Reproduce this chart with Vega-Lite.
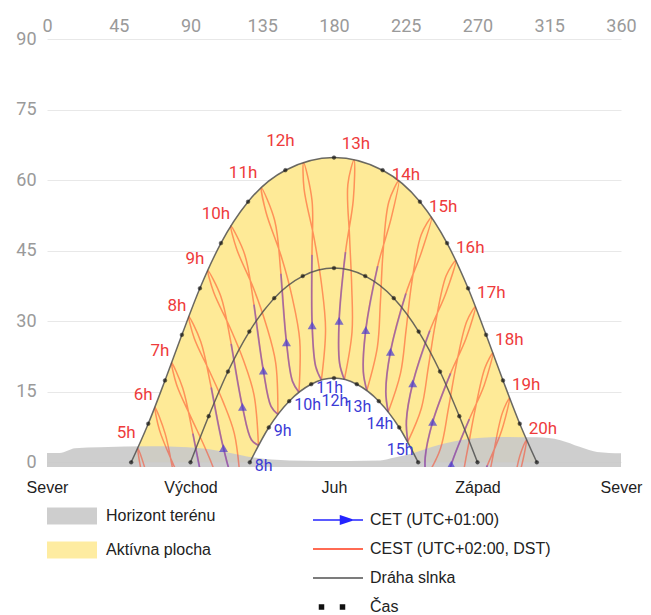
{
  "$schema": "https://vega.github.io/schema/vega-lite/v6.json",
  "width": 574,
  "height": 428,
  "autosize": {"type": "none"},
  "padding": {"left": 47, "top": 39, "right": 30, "bottom": 148},
  "config": {
    "view": {"stroke": null},
    "font": "Roboto",
    "axis": {"title": null, "ticks": false, "domain": false, "grid": false, "labelFont": "Roboto", "labelColor": "#9a9a9a", "labelFontSize": 18}
  },
  "datasets": {
    "paths": [
      {"c": "S", "az": 52.8, "el": 0, "label": "5h"},
      {"c": "S", "az": 63.5, "el": 8.2, "label": "6h"},
      {"c": "S", "az": 74.0, "el": 17.4, "label": "7h"},
      {"c": "S", "az": 84.6, "el": 27.1, "label": "8h"},
      {"c": "S", "az": 95.9, "el": 37.0, "label": "9h"},
      {"c": "S", "az": 109.1, "el": 46.6, "label": "10h"},
      {"c": "S", "az": 126.1, "el": 55.4, "label": "11h"},
      {"c": "S", "az": 149.5, "el": 62.1, "label": "12h"},
      {"c": "S", "az": 180, "el": 64.8, "label": "13h"},
      {"c": "S", "az": 210.5, "el": 62.1, "label": "14h"},
      {"c": "S", "az": 233.9, "el": 55.4, "label": "15h"},
      {"c": "S", "az": 250.9, "el": 46.6, "label": "16h"},
      {"c": "S", "az": 264.1, "el": 37.0, "label": "17h"},
      {"c": "S", "az": 275.4, "el": 27.1, "label": "18h"},
      {"c": "S", "az": 286.0, "el": 17.4, "label": "19h"},
      {"c": "S", "az": 296.5, "el": 8.2, "label": "20h"},
      {"c": "S", "az": 307.2, "el": 0, "label": ""},
      {"c": "E", "az": 90, "el": 0, "label": ""},
      {"c": "E", "az": 101.4, "el": 9.8, "label": ""},
      {"c": "E", "az": 113.5, "el": 19.3, "label": ""},
      {"c": "E", "az": 126.9, "el": 27.8, "label": ""},
      {"c": "E", "az": 142.5, "el": 34.9, "label": ""},
      {"c": "E", "az": 160.4, "el": 39.6, "label": ""},
      {"c": "E", "az": 180, "el": 41.3, "label": ""},
      {"c": "E", "az": 199.6, "el": 39.6, "label": ""},
      {"c": "E", "az": 217.5, "el": 34.9, "label": ""},
      {"c": "E", "az": 233.1, "el": 27.8, "label": ""},
      {"c": "E", "az": 246.5, "el": 19.3, "label": ""},
      {"c": "E", "az": 258.6, "el": 9.8, "label": ""},
      {"c": "E", "az": 270, "el": 0, "label": ""},
      {"c": "W", "az": 127.2, "el": 0, "label": "8h"},
      {"c": "W", "az": 139.1, "el": 7.4, "label": "9h"},
      {"c": "W", "az": 151.9, "el": 13.0, "label": "10h"},
      {"c": "W", "az": 165.7, "el": 16.6, "label": "11h"},
      {"c": "W", "az": 180, "el": 17.9, "label": "12h"},
      {"c": "W", "az": 194.3, "el": 16.6, "label": "13h"},
      {"c": "W", "az": 208.1, "el": 13.0, "label": "14h"},
      {"c": "W", "az": 220.9, "el": 7.4, "label": "15h"},
      {"c": "W", "az": 232.8, "el": 0, "label": ""}
    ],
    "terrain": [
      {"az": 0, "el": 2.0}, {"az": 8, "el": 2.0}, {"az": 17.6, "el": 3.0}, {"az": 33, "el": 3.2},
      {"az": 65, "el": 3.4}, {"az": 96, "el": 3.0}, {"az": 115, "el": 2.0}, {"az": 130, "el": 1.0},
      {"az": 152, "el": 0.4}, {"az": 171, "el": 0.3}, {"az": 190, "el": 0.3}, {"az": 209, "el": 0.4},
      {"az": 218, "el": 1.0}, {"az": 230, "el": 2.0}, {"az": 245, "el": 3.6}, {"az": 265, "el": 5.0},
      {"az": 286, "el": 5.4}, {"az": 307, "el": 5.3}, {"az": 322, "el": 4.7}, {"az": 334, "el": 3.3},
      {"az": 345, "el": 2.2}, {"az": 360, "el": 1.9}
    ],
    "hours": [
      {"t": 5, "d": 4, "az": 68.5, "el": -13.3}, {"t": 5, "d": 5, "az": 62.9, "el": -3.1}, {"t": 5, "d": 6, "az": 57.0, "el": 3.0}, {"t": 5, "d": 7, "az": 59.4, "el": -2.1}, {"t": 5, "d": 8, "az": 67.7, "el": -9.9},
      {"t": 6, "d": 3, "az": 88.4, "el": -16.4}, {"t": 6, "d": 4, "az": 80.2, "el": -3.8}, {"t": 6, "d": 5, "az": 74.1, "el": 6.1}, {"t": 6, "d": 6, "az": 67.7, "el": 11.7}, {"t": 6, "d": 7, "az": 70.5, "el": 6.9}, {"t": 6, "d": 8, "az": 79.2, "el": -0.4}, {"t": 6, "d": 9, "az": 87.5, "el": -6.5}, {"t": 6, "d": 10, "az": 95.1, "el": -12.8},
      {"t": 7, "d": 1, "az": 110.7, "el": -13.2}, {"t": 7, "d": 2, "az": 106.1, "el": -12.7}, {"t": 7, "d": 3, "az": 99.5, "el": -6.6}, {"t": 7, "d": 4, "az": 91.5, "el": 6.1}, {"t": 7, "d": 5, "az": 85.1, "el": 15.8}, {"t": 7, "d": 6, "az": 78.1, "el": 21.2}, {"t": 7, "d": 7, "az": 81.3, "el": 16.5}, {"t": 7, "d": 8, "az": 90.4, "el": 9.5}, {"t": 7, "d": 9, "az": 98.7, "el": 3.4}, {"t": 7, "d": 10, "az": 106.1, "el": -3.05}, {"t": 7, "d": 11, "az": 110.7, "el": -13.2},
      {"t": 8, "d": 1, "az": 121.3, "el": -4.3}, {"t": 8, "d": 2, "az": 116.8, "el": -3.5}, {"t": 8, "d": 3, "az": 110.7, "el": 3.0}, {"t": 8, "d": 4, "az": 103.0, "el": 15.9}, {"t": 8, "d": 5, "az": 96.4, "el": 25.7}, {"t": 8, "d": 6, "az": 88.9, "el": 31.0}, {"t": 8, "d": 7, "az": 92.4, "el": 26.3}, {"t": 8, "d": 8, "az": 102.0, "el": 19.3}, {"t": 8, "d": 9, "az": 110.4, "el": 12.9}, {"t": 8, "d": 10, "az": 117.5, "el": 6.1}, {"t": 8, "d": 11, "az": 121.3, "el": -4.3},
      {"t": 9, "d": 1, "az": 132.6, "el": 3.6}, {"t": 9, "d": 2, "az": 128.2, "el": 4.8}, {"t": 9, "d": 3, "az": 122.6, "el": 11.8}, {"t": 9, "d": 4, "az": 115.5, "el": 25.2}, {"t": 9, "d": 5, "az": 109.0, "el": 35.3}, {"t": 9, "d": 6, "az": 100.8, "el": 40.8}, {"t": 9, "d": 7, "az": 104.6, "el": 36.1}, {"t": 9, "d": 8, "az": 114.7, "el": 28.7}, {"t": 9, "d": 9, "az": 123.1, "el": 21.8}, {"t": 9, "d": 10, "az": 129.8, "el": 14.4}, {"t": 9, "d": 11, "az": 132.6, "el": 3.6},
      {"t": 10, "d": 1, "az": 144.8, "el": 10.2}, {"t": 10, "d": 2, "az": 140.5, "el": 11.9}, {"t": 10, "d": 3, "az": 135.7, "el": 19.5}, {"t": 10, "d": 4, "az": 129.8, "el": 33.5}, {"t": 10, "d": 5, "az": 124.0, "el": 44.2}, {"t": 10, "d": 6, "az": 115.2, "el": 50.3}, {"t": 10, "d": 7, "az": 119.0, "el": 45.3}, {"t": 10, "d": 8, "az": 129.4, "el": 37.1}, {"t": 10, "d": 9, "az": 137.4, "el": 29.3}, {"t": 10, "d": 10, "az": 143.4, "el": 21.2}, {"t": 10, "d": 11, "az": 144.8, "el": 10.2},
      {"t": 11, "d": 1, "az": 158.0, "el": 14.9}, {"t": 11, "d": 2, "az": 154.0, "el": 17.2}, {"t": 11, "d": 3, "az": 150.2, "el": 25.5}, {"t": 11, "d": 4, "az": 146.7, "el": 40.1}, {"t": 11, "d": 5, "az": 142.8, "el": 51.4}, {"t": 11, "d": 6, "az": 134.4, "el": 58.4}, {"t": 11, "d": 7, "az": 137.4, "el": 53.1}, {"t": 11, "d": 8, "az": 147.0, "el": 43.7}, {"t": 11, "d": 9, "az": 153.9, "el": 34.9}, {"t": 11, "d": 10, "az": 158.5, "el": 26.0}, {"t": 11, "d": 11, "az": 158.0, "el": 14.9},
      {"t": 12, "d": 1, "az": 172.1, "el": 17.5}, {"t": 12, "d": 2, "az": 168.5, "el": 20.4}, {"t": 12, "d": 3, "az": 166.3, "el": 29.1}, {"t": 12, "d": 4, "az": 166.2, "el": 44.1}, {"t": 12, "d": 5, "az": 166.2, "el": 55.7}, {"t": 12, "d": 6, "az": 160.9, "el": 63.75}, {"t": 12, "d": 7, "az": 161.2, "el": 58.2}, {"t": 12, "d": 8, "az": 167.6, "el": 47.5}, {"t": 12, "d": 9, "az": 172.2, "el": 37.8}, {"t": 12, "d": 10, "az": 174.7, "el": 28.3}, {"t": 12, "d": 11, "az": 172.1, "el": 17.5},
      {"t": 13, "d": 1, "az": 186.5, "el": 17.6}, {"t": 13, "d": 2, "az": 183.5, "el": 21.1}, {"t": 13, "d": 3, "az": 183.2, "el": 30.05}, {"t": 13, "d": 4, "az": 187.2, "el": 44.7}, {"t": 13, "d": 5, "az": 192.1, "el": 55.8}, {"t": 13, "d": 6, "az": 192.6, "el": 64.3}, {"t": 13, "d": 7, "az": 188.7, "el": 59.1}, {"t": 13, "d": 8, "az": 189.8, "el": 47.7}, {"t": 13, "d": 9, "az": 191.1, "el": 37.5}, {"t": 13, "d": 10, "az": 191.3, "el": 27.7}, {"t": 13, "d": 11, "az": 186.5, "el": 17.6},
      {"t": 14, "d": 1, "az": 200.6, "el": 15.3}, {"t": 14, "d": 2, "az": 198.4, "el": 19.2}, {"t": 14, "d": 3, "az": 199.9, "el": 28.1}, {"t": 14, "d": 4, "az": 207.4, "el": 41.7}, {"t": 14, "d": 5, "az": 215.8, "el": 51.8}, {"t": 14, "d": 6, "az": 220.6, "el": 59.85}, {"t": 14, "d": 7, "az": 214.4, "el": 55.4}, {"t": 14, "d": 8, "az": 210.7, "el": 44.3}, {"t": 14, "d": 9, "az": 209.1, "el": 34.1}, {"t": 14, "d": 10, "az": 207.2, "el": 24.5}, {"t": 14, "d": 11, "az": 200.6, "el": 15.3},
      {"t": 15, "d": 1, "az": 214.0, "el": 10.7}, {"t": 15, "d": 2, "az": 212.5, "el": 15.0}, {"t": 15, "d": 3, "az": 215.4, "el": 23.5}, {"t": 15, "d": 4, "az": 225.1, "el": 35.9}, {"t": 15, "d": 5, "az": 234.9, "el": 44.7}, {"t": 15, "d": 6, "az": 241.2, "el": 52.1}, {"t": 15, "d": 7, "az": 234.7, "el": 48.4}, {"t": 15, "d": 8, "az": 228.7, "el": 38.0}, {"t": 15, "d": 9, "az": 225.2, "el": 28.1}, {"t": 15, "d": 10, "az": 221.7, "el": 18.9}, {"t": 15, "d": 11, "az": 214.0, "el": 10.7},
      {"t": 16, "d": 1, "az": 226.3, "el": 4.4}, {"t": 16, "d": 2, "az": 225.4, "el": 8.8}, {"t": 16, "d": 3, "az": 229.4, "el": 16.8}, {"t": 16, "d": 4, "az": 240.1, "el": 28.0}, {"t": 16, "d": 5, "az": 250.1, "el": 35.9}, {"t": 16, "d": 6, "az": 256.4, "el": 42.9}, {"t": 16, "d": 7, "az": 250.4, "el": 39.7}, {"t": 16, "d": 8, "az": 243.7, "el": 29.7}, {"t": 16, "d": 9, "az": 239.2, "el": 20.3}, {"t": 16, "d": 10, "az": 234.8, "el": 11.5}, {"t": 16, "d": 11, "az": 226.3, "el": 4.4},
      {"t": 17, "d": 1, "az": 237.6, "el": -3.4}, {"t": 17, "d": 2, "az": 237.2, "el": 1.05}, {"t": 17, "d": 3, "az": 241.9, "el": 8.6}, {"t": 17, "d": 4, "az": 253.1, "el": 18.9}, {"t": 17, "d": 5, "az": 262.8, "el": 26.3}, {"t": 17, "d": 6, "az": 268.7, "el": 33.1}, {"t": 17, "d": 7, "az": 263.3, "el": 30.0}, {"t": 17, "d": 8, "az": 256.5, "el": 20.4}, {"t": 17, "d": 9, "az": 251.7, "el": 11.3}, {"t": 17, "d": 10, "az": 246.7, "el": 2.85}, {"t": 17, "d": 11, "az": 237.6, "el": -3.4},
      {"t": 18, "d": 1, "az": 248.3, "el": -12.2}, {"t": 18, "d": 2, "az": 248.2, "el": -7.7}, {"t": 18, "d": 3, "az": 253.5, "el": -0.5}, {"t": 18, "d": 4, "az": 264.9, "el": 9.2}, {"t": 18, "d": 5, "az": 274.2, "el": 16.4}, {"t": 18, "d": 6, "az": 279.6, "el": 23.25}, {"t": 18, "d": 7, "az": 274.7, "el": 20.1}, {"t": 18, "d": 8, "az": 268.2, "el": 10.65}, {"t": 18, "d": 9, "az": 263.2, "el": 1.7}, {"t": 18, "d": 10, "az": 257.9, "el": -6.6}, {"t": 18, "d": 11, "az": 248.3, "el": -12.2},
      {"t": 19, "d": 3, "az": 264.6, "el": -10.2}, {"t": 19, "d": 4, "az": 276.2, "el": -0.65}, {"t": 19, "d": 5, "az": 285.1, "el": 6.7}, {"t": 19, "d": 6, "az": 290.1, "el": 13.7}, {"t": 19, "d": 7, "az": 285.5, "el": 10.4}, {"t": 19, "d": 8, "az": 279.4, "el": 0.8}, {"t": 19, "d": 9, "az": 274.5, "el": -8.2},
      {"t": 20, "d": 4, "az": 287.7, "el": -10.3}, {"t": 20, "d": 5, "az": 296.3, "el": -2.5}, {"t": 20, "d": 6, "az": 300.7, "el": 4.75}, {"t": 20, "d": 7, "az": 296.4, "el": 1.2}, {"t": 20, "d": 8, "az": 290.9, "el": -8.8}
    ]
  },
  "resolve": {"axis": {"x": "independent"}},
  "layer": [
    {
      "data": {"name": "paths"},
      "transform": [{"filter": "datum.c === 'S'"}],
      "mark": {"type": "area", "interpolate": "monotone"},
      "encoding": {
        "x": {"field": "az", "type": "quantitative", "scale": {"domain": [0, 360], "nice": false, "zero": false},
              "axis": {"orient": "top", "values": [0, 45, 90, 135, 180, 225, 270, 315, 360], "labelPadding": 4, "labelFlush": false, "labelOverlap": false}},
        "y": {"field": "el", "type": "quantitative", "scale": {"domain": [-1, 90], "nice": false, "zero": false},
              "axis": {"values": [0, 15, 30, 45, 60, 75, 90], "grid": true, "gridColor": "#e8e8e8", "labelPadding": 11, "labelOverlap": false}},
        "y2": {"datum": 0},
        "fill": {"datum": "Aktívna plocha", "type": "nominal",
                 "scale": {"domain": ["Horizont terénu", "Aktívna plocha"], "range": ["#c9c9c9", "#feea97"]},
                 "legend": {"orient": "none", "legendX": 0, "legendY": 452, "title": null, "direction": "vertical",
                            "symbolType": "M-1,-0.34H1V0.34H-1Z", "symbolSize": 2500, "symbolStrokeWidth": 0, "symbolOpacity": 1,
                            "rowPadding": -19, "labelOffset": 9, "labelLimit": 300, "labelFont": "Liberation Sans", "labelFontSize": 16, "labelColor": "#222222"}}
      }
    },
    {
      "data": {"name": "paths"},
      "transform": [{"filter": "datum.c === 'W'"}],
      "mark": {"type": "area", "interpolate": "monotone", "fill": "#ffffff"},
      "encoding": {
        "x": {"field": "az", "type": "quantitative",
              "axis": {"orient": "bottom", "values": [0, 90, 180, 270, 360], "labelExpr": "datum.value == 0 || datum.value == 360 ? 'Sever' : datum.value == 90 ? 'Východ' : datum.value == 180 ? 'Juh' : 'Západ'",
                       "labelColor": "#222222", "labelFont": "Liberation Sans", "labelFontSize": 16, "labelPadding": 12, "labelFlush": false, "labelOverlap": false}},
        "y": {"field": "el", "type": "quantitative"},
        "y2": {"datum": 0}
      }
    },
    {
      "data": {"name": "terrain"},
      "mark": {"type": "area", "interpolate": "monotone", "opacity": 0.9},
      "encoding": {
        "x": {"field": "az", "type": "quantitative", "axis": null},
        "y": {"field": "el", "type": "quantitative"},
        "y2": {"datum": -1},
        "fill": {"datum": "Horizont terénu", "type": "nominal"}
      }
    },
    {
      "data": {"name": "hours"},
      "mark": {"type": "line", "interpolate": "catmull-rom", "strokeWidth": 1.5, "opacity": 0.5, "clip": true},
      "encoding": {
        "x": {"field": "az", "type": "quantitative", "axis": null},
        "y": {"field": "el", "type": "quantitative"},
        "detail": {"field": "t"},
        "order": {"field": "d"},
        "stroke": {"datum": "CEST (UTC+02:00, DST)", "type": "nominal",
                   "scale": {"domain": ["CET (UTC+01:00)", "CEST (UTC+02:00, DST)", "Dráha slnka", "Čas"], "range": ["#2424ff", "#ff3a1a", "#505050", "#111111"]},
                   "legend": {"orient": "none", "legendX": 280, "legendY": 470, "title": null, "direction": "vertical",
                              "symbolSize": 400, "symbolStrokeWidth": 1.5, "symbolOpacity": 1, "rowPadding": 10, "labelOffset": 21, "labelLimit": 300,
                              "labelFont": "Liberation Sans", "labelFontSize": 16, "labelColor": "#222222",
                              "encode": {"symbols": {"update": {
                                "shape": {"signal": "datum.value === 'Čas' ? 'M-1.85,-0.2H-1.45V0.2H-1.85ZM0.25,-0.2H0.65V0.2H0.25Z' : datum.value === 'CET (UTC+01:00)' ? 'M-2.5,0H2.5M0.25,-0.4L1.45,0L0.25,0.4Z' : 'M-2.5,0H2.5'"},
                                "fill": {"signal": "datum.value === 'Čas' ? '#111111' : datum.value === 'CET (UTC+01:00)' ? '#2424ff' : 'transparent'"}
                              }}}}}
      }
    },
    {
      "data": {"name": "hours"},
      "transform": [{"filter": "datum.d <= 4 && datum.t >= 7"}],
      "mark": {"type": "line", "interpolate": "catmull-rom", "strokeWidth": 1.8, "opacity": 0.38, "clip": true},
      "encoding": {
        "x": {"field": "az", "type": "quantitative", "axis": null},
        "y": {"field": "el", "type": "quantitative"},
        "detail": {"field": "t"},
        "order": {"field": "d"},
        "stroke": {"datum": "CET (UTC+01:00)", "type": "nominal"}
      }
    },
    {
      "data": {"name": "hours"},
      "transform": [{"filter": "datum.d === 3 && datum.t >= 8 && datum.t <= 18"}],
      "mark": {"type": "point", "shape": "triangle-up", "filled": true, "size": 80, "clip": true, "opacity": 0.7},
      "encoding": {
        "x": {"field": "az", "type": "quantitative", "axis": null},
        "y": {"field": "el", "type": "quantitative"},
        "color": {"value": "#4a3ad0"}
      }
    },
    {
      "data": {"name": "paths"},
      "mark": {"type": "line", "interpolate": "monotone", "strokeWidth": 1.5, "opacity": 0.85},
      "encoding": {
        "x": {"field": "az", "type": "quantitative", "axis": null},
        "y": {"field": "el", "type": "quantitative"},
        "detail": {"field": "c"},
        "stroke": {"datum": "Dráha slnka", "type": "nominal"}
      }
    },
    {
      "data": {"name": "paths"},
      "mark": {"type": "point", "filled": true, "size": 14, "strokeWidth": 0.5},
      "encoding": {
        "x": {"field": "az", "type": "quantitative", "axis": null},
        "y": {"field": "el", "type": "quantitative"},
        "fill": {"value": "#111111"},
        "stroke": {"datum": "Čas", "type": "nominal"}
      }
    },
    {
      "data": {"name": "paths"},
      "transform": [{"filter": "datum.c === 'S' && datum.az < 170 && datum.label !== ''"}],
      "mark": {"type": "text", "align": "center", "baseline": "middle", "dx": -5, "dy": -29, "fontSize": 17, "fill": "#ee3b3b"},
      "encoding": {
        "x": {"field": "az", "type": "quantitative", "axis": null},
        "y": {"field": "el", "type": "quantitative"},
        "text": {"field": "label"}
      }
    },
    {
      "data": {"name": "paths"},
      "transform": [{"filter": "datum.c === 'S' && datum.az >= 170 && datum.az <= 190"}],
      "mark": {"type": "text", "align": "center", "baseline": "middle", "dx": 22, "dy": -14, "fontSize": 17, "fill": "#ee3b3b"},
      "encoding": {
        "x": {"field": "az", "type": "quantitative", "axis": null},
        "y": {"field": "el", "type": "quantitative"},
        "text": {"field": "label"}
      }
    },
    {
      "data": {"name": "paths"},
      "transform": [{"filter": "datum.c === 'S' && datum.az > 190 && datum.label !== ''"}],
      "mark": {"type": "text", "align": "left", "baseline": "middle", "dx": 9, "dy": 5, "fontSize": 17, "fill": "#ee3b3b"},
      "encoding": {
        "x": {"field": "az", "type": "quantitative", "axis": null},
        "y": {"field": "el", "type": "quantitative"},
        "text": {"field": "label"}
      }
    },
    {
      "data": {"name": "paths"},
      "transform": [{"filter": "datum.c === 'W' && datum.az < 175 && datum.label !== ''"}],
      "mark": {"type": "text", "align": "left", "baseline": "middle", "dx": 5, "dy": 4, "fontSize": 16, "fill": "#3a3ad6"},
      "encoding": {
        "x": {"field": "az", "type": "quantitative", "axis": null},
        "y": {"field": "el", "type": "quantitative"},
        "text": {"field": "label"}
      }
    },
    {
      "data": {"name": "paths"},
      "transform": [{"filter": "datum.c === 'W' && datum.az >= 175 && datum.label !== ''"}],
      "mark": {"type": "text", "align": "center", "baseline": "middle", "dx": 1, "dy": 23, "fontSize": 16, "fill": "#3a3ad6"},
      "encoding": {
        "x": {"field": "az", "type": "quantitative", "axis": null},
        "y": {"field": "el", "type": "quantitative"},
        "text": {"field": "label"}
      }
    }
  ]
}
